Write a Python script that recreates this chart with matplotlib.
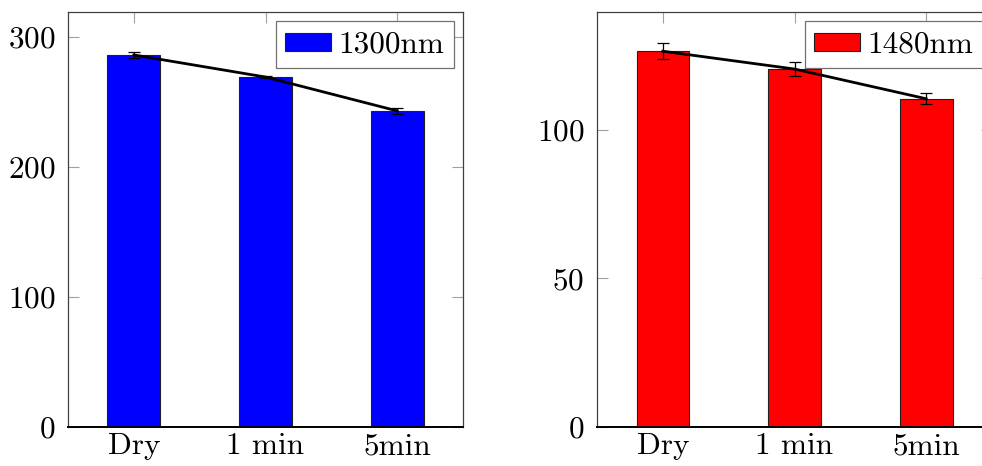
import matplotlib
matplotlib.use("Agg")
import matplotlib.pyplot as plt

plt.rcParams['font.family'] = ['cmr10', 'DejaVu Serif']
plt.rcParams['mathtext.fontset'] = 'cm'
plt.rcParams['axes.formatter.use_mathtext'] = True

categories = ['Dry', '1 min', '5min']

vals_1300 = [286, 269, 243]
err_1300 = [2.3, 1.0, 2.3]

vals_1480 = [126.5, 120.5, 110.5]
err_1480 = [2.6, 2.5, 1.9]

fs = 22.5


def draw_panel(ax, vals, err, color, label, ymax, yticks):
    x = list(range(len(categories)))
    ax.bar(x, vals, width=0.4, color=color, edgecolor='#202020',
           linewidth=0.8, label=label, zorder=2)
    ax.errorbar(x, vals, yerr=err, color='black', lw=2.0,
                elinewidth=0.9, capsize=4.5, capthick=0.9, zorder=3)
    ax.set_xlim(-0.5, 2.5)
    ax.set_ylim(0, ymax)
    ax.set_xticks(x)
    ax.set_xticklabels(categories)
    ax.set_yticks(yticks)
    ax.tick_params(direction='in', length=8, width=0.8, color='#a0a0a0',
                   top=True, right=True, labelsize=fs, labelcolor='black')
    ax.tick_params(axis='y', pad=9)
    ax.tick_params(axis='x', pad=4)
    for s in ['top', 'right', 'left']:
        ax.spines[s].set_color('#404040')
        ax.spines[s].set_linewidth(0.9)
    ax.spines['bottom'].set_color('black')
    ax.spines['bottom'].set_linewidth(1.4)
    leg = ax.legend(loc='upper right', fontsize=fs, fancybox=False,
                    edgecolor='#707070', framealpha=1, handlelength=1.45,
                    handleheight=0.5, handletextpad=0.25, borderpad=0.3,
                    borderaxespad=0.3)
    leg.get_frame().set_linewidth(0.9)


fig = plt.figure(figsize=(9.82, 4.66), dpi=100)

ax1 = fig.add_axes([68 / 982, 39 / 466, 395 / 982, 415 / 466])
draw_panel(ax1, vals_1300, err_1300, '#0000ff', '1300nm', 319, [0, 100, 200, 300])

ax2 = fig.add_axes([597 / 982, 39 / 466, 395 / 982, 415 / 466])
draw_panel(ax2, vals_1480, err_1480, '#ff0000', '1480nm', 139.7, [0, 50, 100])

fig.savefig('out.png', dpi=100)
